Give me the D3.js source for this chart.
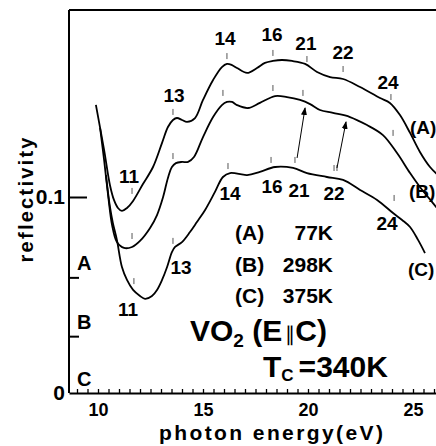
<!DOCTYPE html>
<html>
<head>
<meta charset="utf-8">
<script src="https://cdn.jsdelivr.net/npm/d3@7"></script>
<style>
body { margin: 0; background: #fff; }
svg { display: block; font-family: "Liberation Sans", Arial, sans-serif; font-weight: bold; }
</style>
</head>
<body>
<svg id="chart" width="436" height="446"></svg>
<script>
// reflectivity spectra as plotted (A and B carry their vertical offset)
const curveA = [[9.90,0.147],[10.29,0.124],[10.57,0.106],[10.76,0.0985],[10.95,0.0944],[11.14,0.0929],[11.38,0.0944],
    [11.67,0.098],[12.14,0.1066],[12.62,0.1153],[13.05,0.1276],[13.33,0.1357],[13.57,0.1393],[13.76,0.1403],[14.0,0.1393],
    [14.24,0.1383],[14.62,0.1403],[15.0,0.1495],[15.48,0.1597],[15.9,0.1663],[16.14,0.1679],[16.38,0.1673],[16.62,0.1658],
    [17.1,0.1633],[17.57,0.1658],[17.95,0.1684],[18.33,0.1694],[18.76,0.1699],[19.24,0.1694],[19.86,0.1679],[20.43,0.1638],
    [21.05,0.1612],[21.67,0.1602],[22.48,0.1561],[23.43,0.1505],[23.9,0.148],[24.38,0.1418],[24.86,0.1327],[25.33,0.123],
    [25.81,0.1153],[26.14,0.1117]];
const curveB = [[10.1,0.1352],[10.29,0.1189],[10.48,0.101],[10.67,0.0857],[10.9,0.077],[11.24,0.074],[11.62,0.0745],
    [12.0,0.0776],[12.48,0.0842],[12.81,0.0908],[13.1,0.1],[13.33,0.1097],[13.52,0.1153],[13.71,0.1173],[14.0,0.1179],
    [14.29,0.1179],[14.57,0.1204],[15.0,0.1306],[15.48,0.1408],[15.9,0.1469],[16.14,0.1485],[16.38,0.1485],[16.62,0.1469],
    [17.14,0.1454],[17.71,0.148],[18.43,0.1515],[19.0,0.151],[19.62,0.1495],[20.1,0.1474],[20.57,0.1444],[21.19,0.1429],
    [22.0,0.1408],[22.81,0.1367],[23.57,0.1316],[24.24,0.1224],[24.86,0.1122],[25.33,0.1051],[25.95,0.0969],[26.14,0.0944]];
const curveC = [[10.38,0.1112],[10.57,0.0949],[10.71,0.0867],[10.9,0.0781],[11.14,0.0643],[11.38,0.0577],[11.67,0.0526],
    [12.0,0.0495],[12.24,0.048],[12.57,0.0495],[12.81,0.0526],[13.05,0.0577],[13.29,0.0643],[13.52,0.0719],[13.67,0.0745],
    [14.0,0.077],[14.38,0.0821],[14.71,0.0872],[15.1,0.0934],[15.57,0.1026],[15.95,0.1102],[16.29,0.1122],[17.1,0.1112],
    [17.71,0.1128],[18.43,0.1153],[19.29,0.1148],[19.95,0.1122],[20.9,0.1102],[21.67,0.1087],[22.48,0.1036],[23.29,0.0985],
    [24.05,0.0918],[24.48,0.0883],[24.86,0.0847],[25.24,0.0781],[25.57,0.0714]];

// structure marks (eV, reflectivity) and their numbers
const ticksA = [[11.62,0.1031],[13.57,0.1434],[16.14,0.1719],[18.33,0.1735],[19.95,0.1704],[21.67,0.1653],[23.95,0.151]];
const ticksB = [[11.62,0.0801],[13.57,0.1209],[15.95,0.1531],[18.33,0.1556],[19.76,0.1531],[24.05,0.1327]];
const ticksC = [[11.71,0.0571],[13.57,0.0776],[16.19,0.1158],[18.24,0.1189],[19.38,0.1189],[21.24,0.1148],[21.38,0.1148],[24.1,0.0995]];
const labelsA = [["11",11.48,0.1107],["13",13.62,0.152],["14",16.05,0.1811],["16",18.29,0.1832],["21",19.9,0.1786],["22",21.67,0.174],["24",23.81,0.1587]];
const labelsC = [["11",11.43,0.0429],["13",13.95,0.0643],["14",16.29,0.102],["16",18.29,0.1056],["21",19.57,0.1036],["22",21.24,0.102],["24",23.76,0.0867]];
const arrows = [[[19.48,0.1199],[19.86,0.1454]],[[21.38,0.1148],[21.81,0.1383]]];

const curveNames = [["(A)",24.86,0.1357],["(B)",24.81,0.1031],["(C)",24.76,0.0633]];
const offsetNames = ["A","B","C"];
const offsets = [0.059,0.029,0];
const legendNames = ["(A)","(B)","(C)"];
const legendTemps = ["77K","298K","375K"];
const xTickLabels = [10,15,20,25];
const xMinorTicks = d3.range(9,26.01,0.5);

const svg = d3.select("#chart");

let x = d3.scaleLinear().domain([10,25]).range([98,413]);
x.domain([x.invert(69), x.invert(436)]).range([69,436]);
const y = d3.scaleLinear().domain([0,0.1]).range([393,197]);
const yTop = y.invert(10);

// frame
svg.append("line").attr("x1",x.range()[0]).attr("x2",x.range()[1]).attr("y1",y(yTop)).attr("y2",y(yTop))
    .attr("stroke","#000").attr("stroke-width",2);
svg.append("line").attr("x1",x.range()[0]).attr("x2",x.range()[0]).attr("y1",y(yTop)).attr("y2",y(0))
    .attr("stroke","#000").attr("stroke-width",2);

// x axis: small inward ticks
let gx = svg.append("g").attr("transform",`translate(0,${y(0)})`)
    .call(d3.axisBottom(x).tickValues(xMinorTicks).tickSizeInner(-4).tickSizeOuter(0).tickFormat(""));
gx.select(".domain").attr("stroke-width",2);
gx.selectAll(".tick line").attr("stroke-width",1.3);
gx.selectAll(".tick text").remove();

svg.append("g").attr("transform",`translate(0,${y(0)})`)
    .call(d3.axisBottom(x).tickValues(xTickLabels).tickSize(0).tickPadding(10))
    .call(g => g.select(".domain").remove())
    .selectAll("text").attr("font-size",18).attr("font-family","inherit").attr("font-weight","bold").attr("fill","#000");

// y axis ticks and labels
svg.append("g").attr("transform",`translate(${x.range()[0]},0)`)
    .call(d3.axisRight(y).tickValues([0.1]).tickSize(18).tickFormat(""))
    .call(g => g.select(".domain").remove())
    .call(g => g.selectAll("text").remove())
    .selectAll("line").attr("stroke-width",2);
svg.append("g").attr("transform",`translate(${x.range()[0]},0)`)
    .call(d3.axisRight(y).tickValues(offsets.slice(0,2)).tickSize(10).tickFormat(""))
    .call(g => g.select(".domain").remove())
    .call(g => g.selectAll("text").remove())
    .selectAll("line").attr("stroke-width",2);
svg.append("g").attr("transform",`translate(${x.range()[0]},0)`)
    .call(d3.axisLeft(y).tickValues([0,0.1]).tickSize(0).tickPadding(4).tickFormat(d => d === 0 ? "0" : "0.1"))
    .call(g => g.select(".domain").remove())
    .selectAll("text").attr("font-size",21).attr("font-family","inherit").attr("font-weight","bold").attr("fill","#000");

svg.selectAll(".offname").data(offsetNames).join("text")
    .attr("x",x.range()[0] + 8).attr("y",(d,i) => y(offsets[i]) - 7)
    .attr("font-size",20).text(d => d);

// curves
let line = d3.line().x(d => x(d[0])).y(d => y(d[1])).curve(d3.curveCatmullRom.alpha(0.5));
svg.selectAll(".spec").data([curveA,curveB,curveC]).join("path")
    .attr("d",line).attr("fill","none").attr("stroke","#000").attr("stroke-width",1.8);

// structure marks
svg.selectAll(".pk").data([...ticksA,...ticksB,...ticksC]).join("line")
    .attr("x1",d => x(d[0])).attr("x2",d => x(d[0]))
    .attr("y1",d => y(d[1]) - 3).attr("y2",d => y(d[1]) + 3)
    .attr("stroke","#555").attr("stroke-width",1);

svg.selectAll(".pklab").data([...labelsA,...labelsC]).join("text")
    .attr("x",d => x(d[1])).attr("y",d => y(d[2])).attr("dy","0.36em")
    .attr("text-anchor","middle").attr("font-size",19).text(d => d[0]);

svg.append("defs").append("marker").attr("id","head")
    .attr("viewBox","0 0 8 8").attr("refX",7).attr("refY",4)
    .attr("markerWidth",8).attr("markerHeight",8).attr("markerUnits","userSpaceOnUse")
    .attr("orient","auto")
    .append("path").attr("d","M0,1 L8,4 L0,7 Z").attr("fill","#000");
svg.selectAll(".arr").data(arrows).join("line")
    .attr("x1",d => x(d[0][0])).attr("y1",d => y(d[0][1]))
    .attr("x2",d => x(d[1][0])).attr("y2",d => y(d[1][1]))
    .attr("stroke","#000").attr("stroke-width",1).attr("marker-end","url(#head)");

svg.selectAll(".cname").data(curveNames).join("text")
    .attr("x",d => x(d[1])).attr("y",d => y(d[2])).attr("dy","0.36em")
    .attr("font-size",19).text(d => d[0]);

// legend
svg.selectAll(".legn").data(legendNames).join("text")
    .attr("x",235).attr("y",(d,i) => 240 + i * 31.5).attr("font-size",21).text(d => d);
svg.selectAll(".legt").data(legendTemps).join("text")
    .attr("x",333).attr("y",(d,i) => 240 + i * 31.5).attr("text-anchor","end").attr("font-size",21).text(d => d);

let t1 = svg.append("text").attr("x",190).attr("y",341).attr("font-size",30);
t1.append("tspan").text("VO");
t1.append("tspan").attr("font-size",19).attr("dy",6).text("2");
t1.append("tspan").attr("dy",-6).text(" (E");
t1.append("tspan").attr("font-size",20).attr("font-weight","normal").attr("dx",3).text("\u2225");
t1.append("tspan").text("C)");

let t2 = svg.append("text").attr("x",263).attr("y",377).attr("font-size",30);
t2.append("tspan").text("T");
t2.append("tspan").attr("font-size",17).attr("dy",4).text("C");
t2.append("tspan").attr("dy",-4).attr("dx",5).text("=340K");

// axis titles
svg.append("text").attr("x",159).attr("y",440).attr("font-size",21)
    .attr("textLength",224).attr("lengthAdjust","spacing").text("photon energy(eV)");
svg.append("text").attr("transform","translate(33,200) rotate(-90)").attr("text-anchor","middle")
    .attr("font-size",20).attr("textLength",125).attr("lengthAdjust","spacing").text("reflectivity");
</script>
</body>
</html>
